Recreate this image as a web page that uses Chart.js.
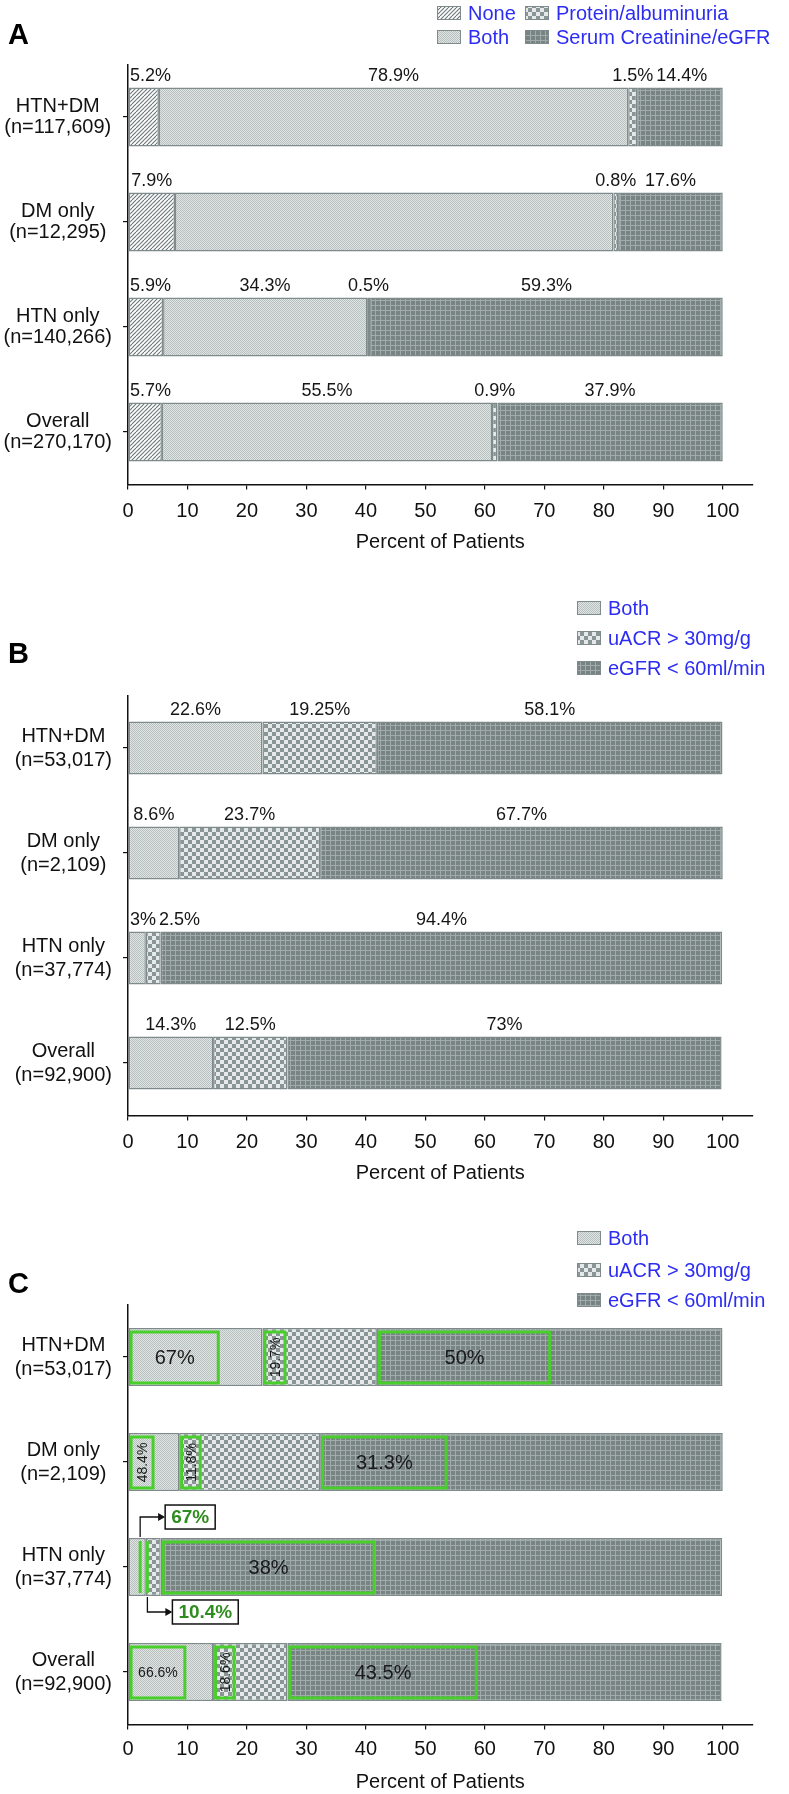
<!DOCTYPE html>
<html>
<head>
<meta charset="utf-8">
<script src="https://cdn.jsdelivr.net/npm/chart.js@4.4.0/dist/chart.umd.min.js"></script>
<style>
  html, body { margin: 0; padding: 0; background: #fff; overflow: hidden; width: 789px; height: 1794px; }
  canvas { position: absolute; left: 0; }
</style>
</head>
<body>
<canvas id="chartA" width="789" height="557" style="top:0px"></canvas>
<canvas id="chartB" width="789" height="608" style="top:580px"></canvas>
<canvas id="chartC" width="789" height="594" style="top:1200px"></canvas>
<script>
// Panel A - testing done
const categoriesA = [['HTN+DM', '(n=117,609)'], ['DM only', '(n=12,295)'], ['HTN only', '(n=140,266)'], ['Overall', '(n=270,170)']];
const seriesNamesA = ['None', 'Both', 'Protein/albuminuria', 'Serum Creatinine/eGFR'];
const noneA = [5.2, 7.9, 5.9, 5.7];
const bothA = [78.9, 73.7, 34.3, 55.5];
const proteinA = [1.5, 0.8, 0.5, 0.9];
const egfrA = [14.4, 17.6, 59.3, 37.9];
// segments that carry no printed value in the figure: [series, row]
const unlabeledA = [[1, 1]];

// Panels B and C - abnormal results
const categoriesBC = [['HTN+DM', '(n=53,017)'], ['DM only', '(n=2,109)'], ['HTN only', '(n=37,774)'], ['Overall', '(n=92,900)']];
const seriesNamesBC = ['Both', 'uACR > 30mg/g', 'eGFR < 60ml/min'];
const bothB = [22.6, 8.6, 3, 14.3];
const uacrB = [19.25, 23.7, 2.5, 12.5];
const egfrB = [58.1, 67.7, 94.4, 73];

// Panel C - highlighted share inside each segment
const boxBothC = [67, 48.4, 67, 66.6];
const boxUacrC = [19.7, 11.8, 10.4, 18.6];
const boxEgfrC = [50, 31.3, 38, 43.5];

const xTicks = [0, 10, 20, 30, 40, 50, 60, 70, 80, 90, 100];

const FONT = "'Liberation Sans', Arial, Helvetica, sans-serif";
const GREEN = '#49cf2b';
const BAR_EDGE = '#7f8a8a';

// fill patterns
function makePattern(kind) {
  const c = document.createElement('canvas');
  const g = c.getContext('2d');
  if (kind === 'hatch') {
    c.width = c.height = 8;
    g.fillStyle = '#ffffff'; g.fillRect(0, 0, 8, 8);
    g.strokeStyle = '#6c7676'; g.lineWidth = 1.1;
    for (let o = -8; o <= 8; o += 4) {
      g.beginPath(); g.moveTo(o, 8); g.lineTo(o + 8, 0); g.stroke();
    }
  } else if (kind === 'stipple') {
    c.width = c.height = 2;
    g.fillStyle = '#e1e6e5'; g.fillRect(0, 0, 2, 2);
    g.fillStyle = '#b7bfbe'; g.fillRect(0, 0, 1, 1); g.fillRect(1, 1, 1, 1);
  } else if (kind === 'checker') {
    c.width = c.height = 8;
    g.fillStyle = '#e5e9e9'; g.fillRect(0, 0, 8, 8);
    g.fillStyle = '#8a9595'; g.fillRect(0, 0, 4, 4); g.fillRect(4, 4, 4, 4);
  } else {
    c.width = c.height = 5;
    g.fillStyle = '#788383'; g.fillRect(0, 0, 5, 5);
    g.fillStyle = '#a2abab'; g.fillRect(0, 0, 5, 1); g.fillRect(0, 0, 1, 5);
  }
  return g.createPattern(c, 'repeat');
}

const fills = {
  hatch: makePattern('hatch'),
  stipple: makePattern('stipple'),
  checker: makePattern('checker'),
  grid: makePattern('grid')
};

function barProps(chart, i, j) {
  return chart.getDatasetMeta(i).data[j].getProps(['x', 'y', 'base', 'height'], true);
}

function drawLegend(chart, slots) {
  const ctx = chart.ctx;
  ctx.font = `20px ${FONT}`;
  ctx.textAlign = 'left';
  ctx.textBaseline = 'middle';
  chart.data.datasets.forEach((ds, i) => {
    const [sx, sy] = slots[i];
    ctx.fillStyle = ds.backgroundColor;
    ctx.fillRect(sx, sy - 7, 24, 14);
    ctx.strokeStyle = BAR_EDGE;
    ctx.lineWidth = 1;
    ctx.strokeRect(sx + 0.5, sy - 6.5, 23, 13);
    ctx.fillStyle = '#2d2df2';
    ctx.fillText(ds.label, sx + 31, sy + 1);
  });
}

function drawValueLabels(chart, skip) {
  const ctx = chart.ctx;
  const left = chart.chartArea.left;
  ctx.font = `18px ${FONT}`;
  ctx.fillStyle = '#161616';
  ctx.textAlign = 'center';
  ctx.textBaseline = 'middle';
  for (let j = 0; j < chart.data.labels.length; j++) {
    let prevRight = left - 1;
    chart.data.datasets.forEach((ds, i) => {
      if (skip.some(s => s[0] === i && s[1] === j)) return;
      const { x, y, base, height } = barProps(chart, i, j);
      const txt = ds.data[j] + '%';
      const w = ctx.measureText(txt).width;
      let cx = (x + base) / 2;
      if (cx - w / 2 < prevRight + 3) cx = prevRight + 3 + w / 2;
      ctx.fillText(txt, cx, y - height / 2 - 11);
      prevRight = cx + w / 2;
    });
  }
}

function drawCallout(ctx, lx, cy, y0, txt) {
  ctx.strokeStyle = '#111';
  ctx.lineWidth = 1.3;
  ctx.beginPath();
  ctx.moveTo(lx, y0);
  ctx.lineTo(lx, cy);
  ctx.lineTo(lx + 19, cy);
  ctx.stroke();
  ctx.fillStyle = '#111';
  ctx.beginPath();
  ctx.moveTo(lx + 25, cy);
  ctx.lineTo(lx + 18, cy - 4);
  ctx.lineTo(lx + 18, cy + 4);
  ctx.closePath();
  ctx.fill();
  ctx.font = `bold 19px ${FONT}`;
  const tw = ctx.measureText(txt).width;
  const bx = lx + 25, bw = tw + 12;
  ctx.fillStyle = '#fff';
  ctx.fillRect(bx, cy - 12, bw, 24);
  ctx.lineWidth = 1.5;
  ctx.strokeRect(bx, cy - 12, bw, 24);
  ctx.fillStyle = '#2f8c1e';
  ctx.textAlign = 'center';
  ctx.textBaseline = 'middle';
  ctx.fillText(txt, bx + bw / 2, cy + 1);
}

function drawHighlights(chart, shares) {
  const ctx = chart.ctx;
  for (let j = 0; j < chart.data.labels.length; j++) {
    let k = 0;
    shares.forEach((arr, i) => {
      const { x, y, base, height } = barProps(chart, i, j);
      const frac = arr[j] / 100;
      const sw = x - base;
      const top = y - height / 2, bottom = y + height / 2;
      const txt = arr[j] + '%';
      if (sw < 20) {
        // segment too thin: green marker plus callout box
        const lx = base + frac * sw;
        ctx.strokeStyle = GREEN;
        ctx.lineWidth = 3;
        ctx.beginPath();
        ctx.moveTo(lx, top + 3);
        ctx.lineTo(lx, bottom - 3);
        ctx.stroke();
        if (k === 0) drawCallout(ctx, lx, top - 21, top - 1, txt);
        else drawCallout(ctx, lx, bottom + 16, bottom + 1, txt);
        k++;
        return;
      }
      let bw = frac * sw;
      ctx.font = `20px ${FONT}`;
      let tw = ctx.measureText(txt).width;
      let mode = 'flat';
      if (tw + 12 > bw) {
        ctx.font = `14px ${FONT}`;
        tw = ctx.measureText(txt).width;
        mode = tw + 10 <= bw ? 'flat' : 'up';
      }
      if (mode === 'up') bw = Math.max(bw, 21);
      const bx = base + 2.5, by = top + 4, bh = height - 7, bwi = bw - 2.5;
      ctx.strokeStyle = GREEN;
      ctx.lineWidth = 3;
      ctx.strokeRect(bx, by, bwi, bh);
      ctx.fillStyle = '#1a1a1a';
      ctx.textAlign = 'center';
      ctx.textBaseline = 'middle';
      if (mode === 'up') {
        ctx.save();
        ctx.translate(bx + bwi / 2, by + bh / 2);
        ctx.rotate(-Math.PI / 2);
        ctx.fillText(txt, 0, 1);
        ctx.restore();
      } else {
        ctx.fillText(txt, bx + bwi / 2, by + bh / 2 + 1);
      }
    });
  }
}

function overlay(p) {
  return {
    id: 'overlay' + p.letter,
    afterDraw(chart) {
      const ctx = chart.ctx;
      ctx.save();
      ctx.fillStyle = '#000';
      ctx.font = `bold 29px ${FONT}`;
      ctx.textAlign = 'left';
      ctx.textBaseline = 'middle';
      ctx.fillText(p.letter, 8, p.letterY);
      drawLegend(chart, p.legendSlots);
      if (p.skip) drawValueLabels(chart, p.skip);
      if (p.shares) drawHighlights(chart, p.shares);
      ctx.restore();
    }
  };
}

function buildPanel(id, p) {
  const datasets = p.names.map((name, i) => ({
    label: name,
    data: p.values[i],
    backgroundColor: p.fills[i],
    borderColor: BAR_EDGE,
    borderWidth: 1.5,
    borderSkipped: false,
    barPercentage: p.barPct,
    categoryPercentage: 1
  }));
  return new Chart(document.getElementById(id), {
    type: 'bar',
    data: { labels: p.categories, datasets: datasets },
    options: {
      indexAxis: 'y',
      responsive: false,
      animation: false,
      layout: { padding: { top: p.padTop, right: 36.5, left: 0, bottom: 0 } },
      plugins: { legend: { display: false }, tooltip: { enabled: false } },
      scales: {
        x: {
          stacked: true,
          min: 0,
          max: 105,
          afterBuildTicks: s => { s.ticks = xTicks.map(v => ({ value: v })); },
          afterFit: s => { s.height = p.axisH; },
          ticks: { color: '#111', font: { family: FONT, size: 20 }, padding: p.tickPad, maxRotation: 0, autoSkip: false },
          grid: { display: true, drawOnChartArea: false, drawTicks: true, tickLength: 5, color: '#111', lineWidth: 1.2 },
          border: { display: true, color: '#111', width: 1.5 },
          title: { display: true, text: 'Percent of Patients', color: '#111', font: { family: FONT, size: 20 }, padding: { top: 0, bottom: p.titlePad } }
        },
        y: {
          stacked: true,
          afterFit: s => { s.width = 128; },
          ticks: { color: '#111', font: { family: FONT, size: 20, lineHeight: p.lineH }, padding: 11, crossAlign: 'center' },
          grid: { display: true, offset: false, drawOnChartArea: false, drawTicks: true, tickLength: 5, color: '#111', lineWidth: 1.2 },
          border: { display: true, color: '#111', width: 1.5 }
        }
      }
    },
    plugins: [overlay(p)]
  });
}

buildPanel('chartA', {
  letter: 'A', letterY: 36,
  categories: categoriesA,
  names: seriesNamesA,
  values: [noneA, bothA, proteinA, egfrA],
  fills: [fills.hatch, fills.stipple, fills.checker, fills.grid],
  legendSlots: [[437, 13], [437, 37], [525, 13], [525, 37]],
  skip: unlabeledA,
  barPct: 0.562, padTop: 64.5, axisH: 72.5, tickPad: 10, titlePad: 2.5, lineH: 1.05
});

buildPanel('chartB', {
  letter: 'B', letterY: 75,
  categories: categoriesBC,
  names: seriesNamesBC,
  values: [bothB, uacrB, egfrB],
  fills: [fills.stipple, fills.checker, fills.grid],
  legendSlots: [[577, 28], [577, 58], [577, 88]],
  skip: [],
  barPct: 0.505, padTop: 115.5, axisH: 72.5, tickPad: 10, titlePad: 2.5, lineH: 1.2
});

buildPanel('chartC', {
  letter: 'C', letterY: 85,
  categories: categoriesBC,
  names: seriesNamesBC,
  values: [bothB, uacrB, egfrB],
  fills: [fills.stipple, fills.checker, fills.grid],
  legendSlots: [[577, 38], [577, 70], [577, 100]],
  shares: [boxBothC, boxUacrC, boxEgfrC],
  barPct: 0.552, padTop: 104.5, axisH: 69.5, tickPad: 8, titlePad: 0, lineH: 1.2
});
</script>
</body>
</html>
